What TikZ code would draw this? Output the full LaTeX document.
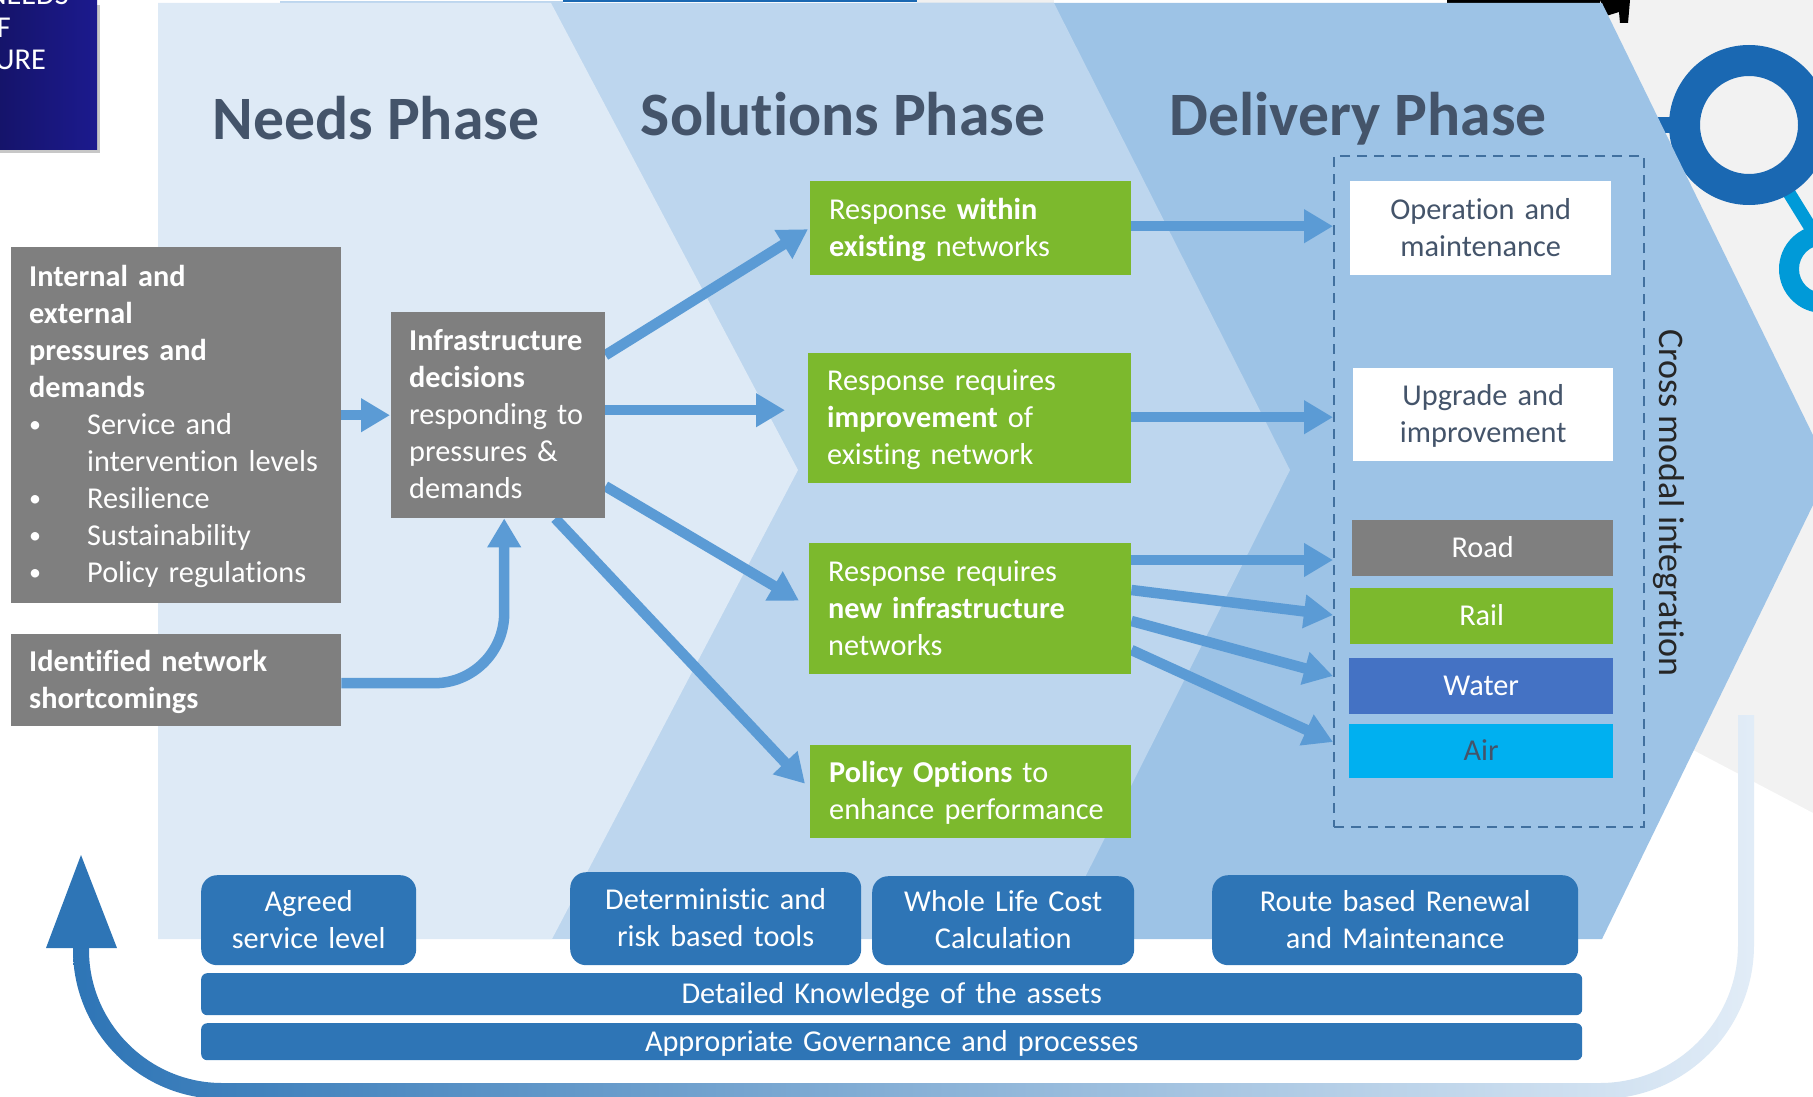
\documentclass[tikz,border=0pt]{standalone}
\usepackage{fontspec}
\setmainfont[Ligatures=NoCommon]{Carlito}
\usetikzlibrary{arrows.meta,backgrounds}

\definecolor{chevone}{HTML}{DEEAF6}
\definecolor{chevtwo}{HTML}{BDD6EE}
\definecolor{chevthree}{HTML}{9DC3E6}
\definecolor{flowblue}{HTML}{5B9BD5}
\definecolor{barblue}{HTML}{2E75B6}
\definecolor{slate}{HTML}{44546A}
\definecolor{leafgreen}{HTML}{7CB92D}
\definecolor{midgrey}{HTML}{7F7F7F}
\definecolor{ringblue}{HTML}{1A68B2}
\definecolor{ringcyan}{HTML}{009AD8}
\definecolor{dashblue}{HTML}{41709F}
\definecolor{waterblue}{HTML}{4472C4}
\definecolor{aircyan}{HTML}{00B0F0}
\definecolor{inkblue}{HTML}{1C1A8E}

\newcommand{\itemdot}{\makebox[58pt][l]{\raisebox{2pt}{\fontsize{24}{24}\selectfont\textbullet}}}

\tikzset{
  textsize/.style={font=\fontsize{30.3}{37}\selectfont},
  box/.style 2 args={anchor=north west,textsize,inner xsep=18pt,inner ysep=0pt,minimum width=#1,minimum height=#2,text width=#1-36pt,text=white,
    execute at begin node=\rule[-11pt]{0pt}{41.5pt},execute at end node=\strut},
  greybox/.style 2 args={box={#1}{#2},fill=midgrey,align=left},
  greenbox/.style 2 args={box={#1}{#2},fill=leafgreen,align=left,inner xsep=19pt,text width=#1-38pt},
  modebox/.style 2 args={box={#1}{#2},align=center},
  toolbox/.style 2 args={box={#1}{#2},fill=barblue,align=center,rounded corners=16pt},
  barbox/.style 2 args={box={#1}{#2},fill=barblue,align=center,rounded corners=6pt,inner ysep=-4pt},
  phase/.style={anchor=base,font=\fontsize{61.7}{70}\selectfont\bfseries,text=slate},
  flow/.style={draw=flowblue,line width=10.5pt,-{Triangle[length=29pt,width=32pt]}}
}

\begin{document}
\begin{tikzpicture}[x=1pt,y=-1pt]
\useasboundingbox (0,0) rectangle (1813,1097);

% phase titles
\node[phase] (needs) at (376,140) {Needs Phase};
\node[phase] (solutions) at (843,136) {Solutions Phase};
\node[phase] (delivery) at (1358,136) {Delivery Phase};

% left column
\node[greybox={330pt}{356pt}] (press) at (11,247) {\textbf{Internal and}\\\textbf{external}\\\textbf{pressures and}\\\textbf{demands}\\
\itemdot Service and\\\hspace*{58pt}intervention levels\\\itemdot Resilience\\\itemdot Sustainability\\\itemdot Policy regulations};
\node[greybox={330pt}{92pt}] (short) at (11,634) {\textbf{Identified network}\\\textbf{shortcomings}};
\node[greybox={214pt}{206pt}] (infra) at (391,312) {\textbf{Infrastructure}\\\textbf{decisions}\\responding to\\pressures \&\\demands};

% responses
\node[greenbox={321pt}{94pt}] (resp1) at (810,181) {Response \textbf{within}\\\textbf{existing} networks};
\node[greenbox={323pt}{130pt}] (resp2) at (808,353) {Response requires\\\textbf{improvement} of\\existing network};
\node[greenbox={322pt}{131pt}] (resp3) at (809,543) {Response requires\\\textbf{new infrastructure}\\networks};
\node[greenbox={321pt}{93pt}] (resp4) at (810,745) {\textbf{Policy Options} to\\enhance performance};

% delivery column
\node[anchor=north west,minimum width=310pt,minimum height=671pt,draw=dashblue,line width=2.2pt,dash pattern=on 10pt off 7pt] (dashbox) at (1333,155) {};
\node[modebox={261pt}{94pt},fill=white,text=slate] (oper) at (1350,181) {Operation and\\maintenance};
\node[modebox={260pt}{93pt},fill=white,text=slate] (upgr) at (1353,368) {Upgrade and\\improvement};
\node[modebox={261pt}{56pt},fill=midgrey] (road) at (1352,520) {Road};
\node[modebox={263pt}{56pt},fill=leafgreen] (rail) at (1350,588) {Rail};
\node[modebox={264pt}{56pt},fill=waterblue] (water) at (1349,658) {Water};
\node[modebox={264pt}{54pt},fill=aircyan,text=slate] (air) at (1349,724) {Air};
\node[font=\fontsize{36}{40}\selectfont,rotate=-90,text=black!85] (cross) at (1669,503) {Cross modal integration};

% tools along the bottom
\node[toolbox={215pt}{90pt}] (agreed) at (201,875) {Agreed\\service level};
\node[toolbox={291pt}{93pt}] (determ) at (570,872) {Deterministic and\\risk based tools};
\node[toolbox={262pt}{89pt}] (whole) at (872,876) {Whole Life Cost\\Calculation};
\node[toolbox={366pt}{90pt}] (route) at (1212,875) {Route based Renewal\\and Maintenance};
\node[barbox={1381pt}{42pt}] (know) at (201,973) {Detailed Knowledge of the assets};
\node[barbox={1381pt}{37pt}] (gov) at (201,1023) {Appropriate Governance and processes};

% cut off box, top left
\fill[black!22] (0,5) rectangle (100,153);
\fill[left color=inkblue!75!black,right color=inkblue] (0,0) rectangle (97,150);
\node[textsize,text=white,anchor=base east,inner sep=0pt] (lineone) at (69,5) {NEEDS};
\node[textsize,text=white,anchor=base east,inner sep=0pt] (linetwo) at (11,38) {F};
\node[textsize,text=white,anchor=base east,inner sep=0pt] (linethree) at (46,70) {URE};

\begin{scope}[on background layer]
% backdrop
\fill[black!5] (1450,0) rectangle (1813,1097);
\fill[white] (1450,1097) -- (1450,600) -- (1693,750) -- (1813,813) -- (1813,1097) -- cycle;
\fill[chevtwo] (280,1) rectangle (563,3);
\fill[black!6] (917,0) rectangle (1054,3);
\fill[ringblue] (563,0) rectangle (917,2.5);
\fill[black] (1447,0) rectangle (1600,3);
\fill[black] (1600,0) -- (1630,0) -- (1628,23) -- (1620,23) -- (1619,12) -- (1606,16) -- cycle;

% rings
\fill[ringcyan,even odd rule] (1823,269) circle (44) (1823,269) circle (24);
\draw[ringcyan,line width=13pt] (1786,188) -- (1815,235);
\fill[ringblue,even odd rule] (1749,125) circle (80) (1749,125) circle (49);
\fill[ringblue] (1650,117) rectangle (1680,133);

% chevrons
\fill[chevthree] (900,3) -- (1602,3) -- (1830,470) -- (1602,939) -- (900,939) -- cycle;
\fill[chevtwo] (500,3) -- (1054,3) -- (1290,470) -- (1054,939) -- (500,939) -- cycle;
\fill[chevone] (158,3) -- (551,3) -- (798,470) -- (552,939) -- (158,939) -- cycle;

% connectors
\draw[flow] (press.east |- infra.west) -- ([xshift=-1]infra.west);
\draw[flow,rounded corners=70pt] ([yshift=-3]short.east) -| ([xshift=6]infra.south);
\draw[flow] ([yshift=60]infra.east) -- ([xshift=-2,yshift=-1]resp1.west);
\draw[flow] ([yshift=5]infra.east) -- ([xshift=-23,yshift=8]resp2.west);
\draw[flow] ([yshift=-71]infra.east) -- ([xshift=-10,yshift=8]resp3.west);
\draw[flow] ([xshift=57]infra.south) -- ([xshift=-5,yshift=8]resp4.west);
\draw[flow] ([yshift=2]resp1.east) -- ([yshift=2]dashbox.west |- resp1.east);
\draw[flow] ([yshift=1]resp2.east) -- ([yshift=1]dashbox.west |- resp2.east);
\foreach \a/\b in {17/405,47/460,78/521,107/587}
  \draw[flow] ([yshift=-\a]resp3.north east) -- ([yshift=-\b]dashbox.north west);

% return arrow under the tools
\shade[left color=barblue,middle color=barblue!35!chevone,right color=chevone!90!white]
  (1754,715) -- (1754,945) .. controls (1754,1030) and (1685,1099) .. (1600,1099)
  -- (222,1099) .. controls (140,1099) and (73,1032) .. (73,950) -- (73,940)
  -- (89,940) -- (89,950) .. controls (89,1023) and (149,1083) .. (222,1083)
  -- (1600,1083) .. controls (1676,1083) and (1738,1021) .. (1738,945) -- (1738,715) -- cycle;
\fill[barblue] (81,855) -- (117,948) -- (46,948) -- cycle;
\end{scope}
\end{tikzpicture}
\end{document}
